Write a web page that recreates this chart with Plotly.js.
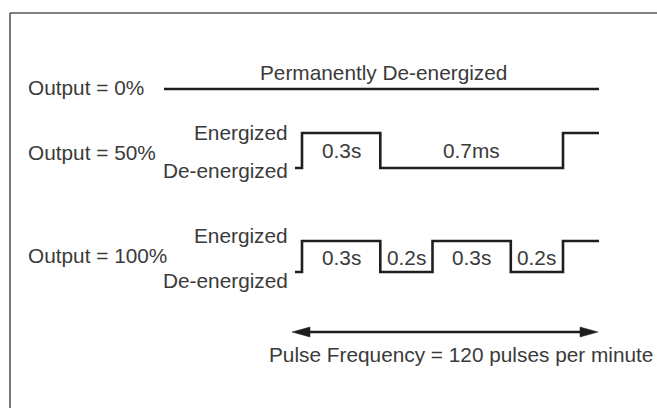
<!DOCTYPE html>
<html><head><meta charset="utf-8">
<script src="https://cdn.plot.ly/plotly-3.0.1.min.js"></script>
<style>html,body{margin:0;padding:0;background:#fff}#chart{width:657px;height:408px}</style>
</head><body><div id="chart"></div>
<script>
// ---- data ----
const rowLabels = ['Output = 0%', 'Output = 50%', 'Output = 100%'];
const stateNames = ['Energized', 'De-energized'];
const zeroStateLabel = 'Permanently De-energized';
const pulse50States = [1, 0];
const pulse50Durations = [0.3, 0.7];
const pulse50Labels = ['0.3s', '0.7ms'];
const pulse100States = [1, 0, 1, 0];
const pulse100Durations = [0.3, 0.2, 0.3, 0.2];
const pulse100Labels = ['0.3s', '0.2s', '0.3s', '0.2s'];
const frequencyLabel = 'Pulse Frequency = 120 pulses per minute';

// ---- geometry (layout only) ----
const W = 657, H = 408;
const pxPerSec = 261, t0px = 302;
const tOf = px => (px - t0px) / pxPerSec;
const leadT = tOf(295), endT = tOf(599);
const zeroStartT = tOf(164);
const labelLeftT = tOf(26), stateRightT = tOf(290);
const FONT = {family: 'Liberation Sans, Arial, sans-serif', size: 20.8, color: '#3a3a3a'};
const LINE = {color: '#1e1e1e', width: 2.6};

const rows = [
  {lineY: 89, labelY: 87, textY: 72},
  {high: 133, low: 168, labelY: 152, enY: 132, deY: 170, segY: 150},
  {high: 241, low: 272, labelY: 255, enY: 235, deY: 280, segY: 257}
];

const traces = [];
const annotations = [];

// 0% row
traces.push({x: [zeroStartT, endT], y: [rows[0].lineY, rows[0].lineY], mode: 'lines', line: LINE, hoverinfo: 'skip'});
annotations.push({x: labelLeftT, y: rows[0].labelY, text: rowLabels[0], xanchor: 'left', yanchor: 'middle', showarrow: false, font: FONT});
annotations.push({x: tOf(383), y: rows[0].textY, text: zeroStateLabel, xanchor: 'center', yanchor: 'middle', showarrow: false, font: FONT});

function pulseRow(r, label, states, durations, segLabels) {
  const g = rows[r];
  const lv = s => s ? g.high : g.low;
  const xs = [leadT], ys = [lv(0)];
  let t = 0;
  states.forEach((s, i) => { xs.push(t); ys.push(lv(s)); t += durations[i]; });
  xs.push(t); ys.push(lv(states[0]));
  xs.push(endT); ys.push(lv(states[0]));
  traces.push({x: xs, y: ys, mode: 'lines', line: Object.assign({shape: 'hv'}, LINE), hoverinfo: 'skip'});
  let c = 0;
  durations.forEach((d, i) => {
    annotations.push({x: c + d / 2, y: g.segY, text: segLabels[i], xanchor: 'center', yanchor: 'middle', showarrow: false, font: FONT});
    c += d;
  });
  annotations.push({x: labelLeftT, y: g.labelY, text: label, xanchor: 'left', yanchor: 'middle', showarrow: false, font: FONT});
  annotations.push({x: stateRightT, y: g.enY, text: stateNames[0], xanchor: 'right', yanchor: 'middle', showarrow: false, font: FONT});
  annotations.push({x: stateRightT, y: g.deY, text: stateNames[1], xanchor: 'right', yanchor: 'middle', showarrow: false, font: FONT});
}
pulseRow(1, rowLabels[1], pulse50States, pulse50Durations, pulse50Labels);
pulseRow(2, rowLabels[2], pulse100States, pulse100Durations, pulse100Labels);

// frequency arrow
const arrowY = 332, arrowL = tOf(292), arrowR = tOf(598);
const headLen = 18 / pxPerSec, headHW = 5;
traces.push({x: [arrowL + headLen - 0.01, arrowR - headLen + 0.01], y: [arrowY, arrowY], mode: 'lines', line: {color: '#1e1e1e', width: 2.6}, hoverinfo: 'skip'});
traces.push({x: [arrowL, arrowL + headLen, arrowL + headLen, arrowL], y: [arrowY, arrowY - headHW, arrowY + headHW, arrowY], mode: 'lines', fill: 'toself', fillcolor: '#1e1e1e', line: {color: '#1e1e1e', width: 0.5}, hoverinfo: 'skip'});
traces.push({x: [arrowR, arrowR - headLen, arrowR - headLen, arrowR], y: [arrowY, arrowY - headHW, arrowY + headHW, arrowY], mode: 'lines', fill: 'toself', fillcolor: '#1e1e1e', line: {color: '#1e1e1e', width: 0.5}, hoverinfo: 'skip'});
annotations.push({x: tOf(461), y: 354, text: frequencyLabel, xanchor: 'center', yanchor: 'middle', showarrow: false, font: FONT});

const layout = {
  width: W, height: H,
  margin: {l: 0, r: 0, t: 0, b: 0},
  paper_bgcolor: '#fff', plot_bgcolor: '#fff',
  showlegend: false,
  xaxis: {range: [tOf(0), tOf(W)], visible: false, fixedrange: true},
  yaxis: {range: [H, 0], visible: false, fixedrange: true},
  annotations: annotations,
  shapes: [
    {type: 'line', xref: 'paper', yref: 'paper', x0: 10 / W, x1: 1, y0: 1 - 13 / H, y1: 1 - 13 / H, line: {color: '#555', width: 1.6}},
    {type: 'line', xref: 'paper', yref: 'paper', x0: 10 / W, x1: 10 / W, y0: 1 - 13 / H, y1: 0, line: {color: '#555', width: 1.6}}
  ]
};
Plotly.newPlot('chart', traces, layout, {staticPlot: true, displayModeBar: false});
</script></body></html>
